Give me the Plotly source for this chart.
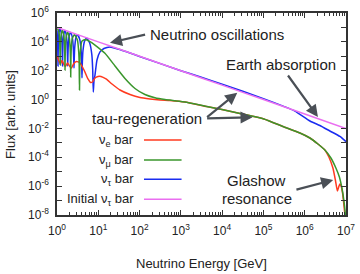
import plotly.graph_objects as go

# ---------------- data ----------------
E_init = [1, 10, 1e2, 1e3, 1e4, 1e5, 1e6, 1e7]
F_init = [1e5, 1e4, 1e3, 1e2, 10, 1, 0.1, 0.01]

E_tau = [1.0, 1.034, 1.048, 1.057, 1.067, 1.081, 1.119, 1.189,
         1.272, 1.323, 1.344, 1.359, 1.374, 1.397, 1.458, 1.555,
         1.682, 1.759, 1.792, 1.816, 1.838, 1.874, 1.970, 2.132,
         2.347, 2.480, 2.538, 2.580, 2.619, 2.682, 2.857, 3.145,
         3.571, 3.834, 3.951, 4.030, 4.117, 4.252, 4.630, 5.263,
         6.211, 6.964, 7.320, 7.570, 7.87, 8.32, 9.30, 11.0, 13.7, 19.2, 30.0, 58.6,
         100, 1000, 3000, 1e4, 1e5, 3e5, 5.8e5, 1.34e6, 2.33e6, 4.07e6, 7.11e6, 1e7]
F_tau = [6.31e4, 9.66e3, 1.70e3, 214, 1.66e3, 9.33e3, 4.47e4, 8.13e4,
         3.94e4, 7.59e3, 1.32e3, 214, 1.29e3, 7.16e3, 3.43e4, 6.17e4,
         2.99e4, 5.69e3, 1000, 214, 977, 5.37e3, 2.54e4, 4.52e4,
         2.14e4, 4.03e3, 708, 155, 676, 3.72e3, 1.76e4, 3.09e4,
         1.41e4, 2600, 452, 31.6, 432, 2.34e3, 1.08e4, 1.84e4,
         8.04e3, 1.36e3, 126, 3.35, 20.0, 50.1, 550, 2.0e3, 3.47e3, 4.47e3, 3.16e3, 1.68e3,
         977, 100, 36.6, 11.7, 1.17, 0.349, 0.158, 0.0328, 0.016, 0.00665, 0.00277, 0.00123]

E_mu = [1.0, 1.06, 1.127, 1.167, 1.183, 1.195, 1.206, 1.224, 1.271, 1.354,
        1.460, 1.520, 1.545, 1.562, 1.580, 1.608, 1.681, 1.808,
        1.977, 2.076, 2.118, 2.147, 2.177, 2.223, 2.349, 2.663,
        3.123, 3.342, 3.439, 3.506, 3.577, 3.687, 3.997, 4.80, 6.3, 8.32,
        14.5, 25.4, 44.3, 77.4, 135, 236, 412, 719,
        1256, 4217, 9886, 2.70e4, 1.028e5, 2.96e5, 7.66e5, 1.336e6, 2.09e6, 3.08e6,
        4.31e6, 5.69e6, 6.92e6, 7.96e6, 8.89e6, 9.66e6, 9.95e6]
F_mu = [7.94e4, 7.59e4, 3.78e4, 7.29e3, 1.28e3, 249, 1.26e3, 6.95e3, 3.36e4, 6.28e4,
        2.92e4, 5.60e3, 979, 112, 957, 5.30e3, 2.54e4, 4.71e4,
        2.16e4, 4.10e3, 714, 36.7, 695, 3.83e3, 1.82e4, 3.20e4,
        1.36e4, 2.43e3, 393, 4.61, 378, 2.20e3, 1.07e4, 1.48e4, 1.05e4, 6.03e3,
        1.61e3, 212, 28.9, 5.86, 2.25, 1.33, 1.0, 0.824,
        0.679, 0.331, 0.206, 0.109, 0.0451, 0.0136, 0.00483, 0.00217, 0.000836, 0.000321,
        8.95e-5, 1.82e-5, 4.31e-6, 7.45e-7, 1.0e-7, 1e-8, 2.04e-9]

E_e = [1.0, 1.118, 1.215, 1.321, 1.477, 1.606, 1.796, 2.008, 2.244, 2.509,
       2.966, 3.606, 4.507, 5.63, 6.475, 7.24, 8.32, 9.83, 11.63, 15.37,
       21.47, 33.5, 58.6, 102.3, 178.6, 311.9, 544.5,
       1256, 4217, 9886, 2.70e4, 1.028e5, 2.96e5, 7.66e5, 1.336e6, 2.09e6, 3.08e6,
       3.85e6, 4.82e6, 5.53e6, 6.19e6, 6.65e6, 7.11e6, 7.60e6, 8.18e6, 8.79e6, 9.40e6, 9.66e6]
F_e = [1.05e3, 472, 292, 511, 270, 196, 343, 212, 155, 292,
       436, 343, 112, 26.7, 15.3, 16.5, 31.3, 39.8, 39.8, 26.7,
       12.0, 4.61, 2.25, 1.39, 1.10, 0.935, 0.865,
       0.679, 0.331, 0.206, 0.109, 0.0451, 0.0136, 0.00483, 0.00217, 0.000836, 0.000321,
       1.05e-4, 1.82e-5, 2.67e-6, 4.62e-7, 8.75e-7, 1.41e-6, 1.03e-6, 3.94e-7, 6.90e-8, 1e-8, 2.04e-9]

X_TICKS = [1, 10, 1e2, 1e3, 1e4, 1e5, 1e6, 1e7]
X_TICKTEXT = ["10<sup>%d</sup>" % i for i in range(0, 8)]
Y_TICKS = [10.0 ** i for i in range(-8, 7)]
Y_TICKTEXT = [("10<sup>%d</sup>" % i) if i % 2 == 0 else "" for i in range(-8, 7)]

SERIES = [
    ("ν<sub>e</sub> bar", E_e, F_e, "#ff3a1f"),
    ("ν<sub>μ</sub> bar", E_mu, F_mu, "#3a962c"),
    ("ν<sub>τ</sub> bar", E_tau, F_tau, "#1a2cf0"),
    ("Initial ν<sub>τ</sub> bar", E_init, F_init, "#ea6ef0"),
]
DRAW_ORDER = [2, 0, 1, 3]   # blue, red, green, magenta

FONT = "Liberation Sans, Arial, Helvetica, sans-serif"
AX = "#333333"
ARR = "#4a4f56"

fig = go.Figure()
for idx in DRAW_ORDER:
    name, xs, ys, col = SERIES[idx]
    fig.add_trace(go.Scatter(x=xs, y=ys, mode="lines", name=name,
                             line=dict(color=col, width=1.5, shape="spline", smoothing=0.5),
                             showlegend=False, hoverinfo="skip"))

axis_common = dict(type="log", showgrid=False, zeroline=False, showline=True,
                   linecolor=AX, linewidth=1.5, mirror="ticks", ticks="inside",
                   tickcolor=AX, tickwidth=1, ticklen=5, automargin=False,
                   tickfont=dict(family=FONT, size=12, color="#222"))

fig.update_xaxes(range=[0, 7], tickmode="array", tickvals=X_TICKS, ticktext=X_TICKTEXT,
                 ticklabelstandoff=4,
                 minor=dict(dtick="D1", ticks="inside", ticklen=3, tickcolor=AX, tickwidth=1, showgrid=False),
                 **axis_common)
fig.update_yaxes(range=[-8, 6], tickmode="array", tickvals=Y_TICKS, ticktext=Y_TICKTEXT,
                 ticklabelstandoff=4,
                 **axis_common)

ann = []
def label(text, x, y, xanchor="center", size=15, angle=0):
    ann.append(dict(text=text, x=x, y=y, xref="paper", yref="paper", xanchor=xanchor,
                    yanchor="middle", showarrow=False, textangle=angle,
                    font=dict(family=FONT, size=size, color="#222")))

def arrow(x0, y0, x1, y1):
    ann.append(dict(text="", x=x1, y=y1, ax=x0, ay=y0, xref="x", yref="y", axref="x", ayref="y",
                    showarrow=True, arrowhead=2, arrowsize=1.1, arrowwidth=2.2, arrowcolor=ARR,
                    standoff=0, startstandoff=0))

# axis titles
label("Neutrino Energy [GeV]", 0.5, -0.238, size=13)
label("Flux [arb. units]", -0.163, 0.5, size=13, angle=-90)

label("Neutrino oscillations", 0.315, 0.896, xanchor="left")
arrow(2.17, 4.52, 1.283, 3.94)
label("Earth absorption", 0.775, 0.743)
arrow(5.569, 1.773, 6.320, -1.207)
label("tau-regeneration", 0.114, 0.479, xanchor="left")
arrow(3.60, -1.30, 4.366, 0.477)
arrow(3.60, -1.30, 4.738, -1.228)
label("Glashow", 0.691, 0.170)
label("resonance", 0.691, 0.083)
arrow(5.763, -6.266, 6.69, -5.573)

# manual legend (text left of the line sample)
rows = [0.371, 0.272, 0.177, 0.078]
shapes = []
for (name, _, _, col), ry in zip(SERIES, rows):
    label(name + " ", 0.285, ry, xanchor="right", size=13)
    shapes.append(dict(type="line", xref="paper", yref="paper", x0=0.301, x1=0.431,
                       y0=ry, y1=ry, line=dict(color=col, width=1.6)))

fig.update_layout(width=360, height=274, margin=dict(l=57, r=14, t=13, b=59, autoexpand=False),
                  paper_bgcolor="white", plot_bgcolor="white",
                  annotations=ann, shapes=shapes, showlegend=False,
                  font=dict(family=FONT, color="#222"))

fig.write_html("out.html")
